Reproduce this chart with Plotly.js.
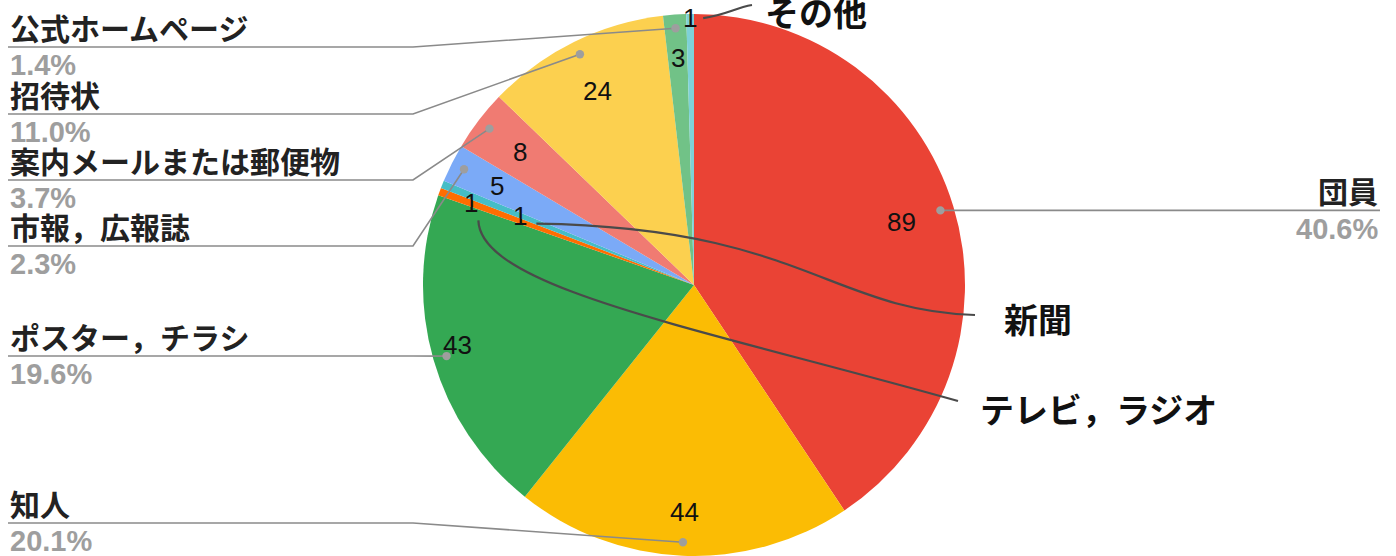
<!DOCTYPE html>
<html>
<head>
<meta charset="utf-8">
<script src="https://cdn.plot.ly/plotly-3.0.1.min.js"></script>
<style>html,body{margin:0;padding:0;background:#fff;}#chart{width:1396px;height:556px;}</style>
</head>
<body>
<div id="chart"></div>
<script>
// ---- data ----
const categories = ['団員','知人','ポスター，チラシ','テレビ，ラジオ','新聞','市報，広報誌','案内メールまたは郵便物','招待状','公式ホームページ','その他'];
const values = [89, 44, 43, 1, 1, 5, 8, 24, 3, 1];
const colors = ['#EA4335','#FBBC04','#34A853','#FF6D01','#46BDC6','#7BAAF7','#F07B72','#FCD04F','#71C287','#7ED1D7'];

// ---- layout helpers ----
const W = 1396, H = 556;
const CX = 694, CY = 285, R = 271;
const px = x => x / W;
const py = y => 1 - y / H;

const total = values.reduce((a, b) => a + b, 0);
const midAngle = [];
let acc = 0;
values.forEach(v => { midAngle.push((acc + v / 2) / total * 2 * Math.PI); acc += v; });
const polar = (i, f, shiftDeg) => {
  const a = midAngle[i] + (shiftDeg || 0) * Math.PI / 180;
  return [CX + f * R * Math.sin(a), CY - f * R * Math.cos(a)];
};
const pct = i => (values[i] / total * 100).toFixed(1) + '%';

// in-slice number placement (radius factor, angular nudge in degrees)
const labelR = [0.80, 0.84, 0.90, 0.875, 0.69, 0.815, 0.81, 0.80, 0.84, 0.985];
const labelShift = [0, 0, 1.8, 0, 0, 0, 0, 0, 0, 0];
const dotR = 0.95;

// side-label placement
const leftIdx = [8, 7, 6, 5, 2, 1];
const leftLineY = [47, 114, 180, 246, 356, 523];
const leftX = 8, elbowX = 413;
const rightIdx = 0, rightX = 1380;
const calloutIdx = [9, 4, 3];
const calloutPos = [[763, 12], [1002, 318], [978, 408]];

const nameFont = {family: 'Noto Sans CJK JP', size: 30, color: '#222222', weight: 700};
const pctFont = {family: 'Liberation Sans, Arial, sans-serif', size: 29, color: '#9E9E9E', weight: 700};
const numFont = {family: 'Liberation Sans, Arial, sans-serif', size: 26, color: '#111111'};
const calloutFont = {family: 'Noto Sans CJK JP', size: 34, color: '#111111', weight: 700};

const annotations = [];
const shapes = [];
const grayLine = {color: '#8A8A8A', width: 1.6};
const darkLine = {color: '#4A4A4A', width: 2.2};

function dot(x, y) {
  const r = 4.2;
  shapes.push({type: 'circle', xref: 'paper', yref: 'paper', layer: 'above',
    x0: px(x - r), x1: px(x + r), y0: py(y + r), y1: py(y - r),
    fillcolor: '#9E9E9E', line: {width: 0}});
}

// numbers in slices
values.forEach((v, i) => {
  const [x, y] = polar(i, labelR[i], labelShift[i]);
  annotations.push({xref: 'paper', yref: 'paper', x: px(x), y: py(y), text: String(v),
    showarrow: false, xanchor: 'center', yanchor: 'middle', font: numFont});
});

// left labels
leftIdx.forEach((i, k) => {
  const ly = leftLineY[k];
  const [dx, dy] = polar(i, dotR);
  const d = `M${px(leftX)},${py(ly)} L${px(elbowX)},${py(ly)} L${px(dx)},${py(dy)}`;
  shapes.push({type: 'path', xref: 'paper', yref: 'paper', layer: 'above', path: d, line: grayLine});
  dot(dx, dy);
  annotations.push({xref: 'paper', yref: 'paper', x: px(leftX), y: py(ly - 20), text: categories[i],
    showarrow: false, xanchor: 'left', yanchor: 'middle', font: nameFont});
  annotations.push({xref: 'paper', yref: 'paper', x: px(leftX), y: py(ly + 18), text: pct(i),
    showarrow: false, xanchor: 'left', yanchor: 'middle', font: pctFont});
});

// right label (団員)
{
  const i = rightIdx;
  const [dx, dy] = polar(i, dotR);
  shapes.push({type: 'line', xref: 'paper', yref: 'paper', layer: 'above',
    x0: px(dx), y0: py(dy), x1: px(rightX), y1: py(dy), line: grayLine});
  dot(dx, dy);
  annotations.push({xref: 'paper', yref: 'paper', x: px(rightX), y: py(dy - 20), text: categories[i],
    showarrow: false, xanchor: 'right', yanchor: 'middle', font: nameFont});
  annotations.push({xref: 'paper', yref: 'paper', x: px(rightX), y: py(dy + 19), text: pct(i),
    showarrow: false, xanchor: 'right', yanchor: 'middle', font: pctFont});
}

// callouts for tiny slices with curved leader lines
const curveOffsets = [
  {s: [13, 0], e: [-11, -7], c: (S, E) => [[S[0] + 0.45 * (E[0] - S[0]), S[1] - 3], [S[0] + 0.65 * (E[0] - S[0]), E[1] + 3]]},
  {s: [16, 8], e: [-27, -3], c: (S, E) => [[S[0] + 0.60 * (E[0] - S[0]), S[1] + 0.04 * (E[1] - S[1])], [S[0] + 0.67 * (E[0] - S[0]), S[1] + 0.95 * (E[1] - S[1])]]},
  {s: [7, 17], e: [-20, -7], c: (S, E) => [[S[0] + 2, S[1] + 68], [S[0] + 222, S[1] + 108]]}
];
calloutIdx.forEach((i, k) => {
  const L = polar(i, labelR[i], labelShift[i]);
  const o = curveOffsets[k];
  const S = [L[0] + o.s[0], L[1] + o.s[1]];
  const E = [calloutPos[k][0] + o.e[0], calloutPos[k][1] + o.e[1]];
  const [C1, C2] = o.c(S, E);
  const d = `M${px(S[0])},${py(S[1])} C${px(C1[0])},${py(C1[1])} ${px(C2[0])},${py(C2[1])} ${px(E[0])},${py(E[1])}`;
  shapes.push({type: 'path', xref: 'paper', yref: 'paper', layer: 'above', path: d, line: darkLine});
  annotations.push({xref: 'paper', yref: 'paper', x: px(calloutPos[k][0]), y: py(calloutPos[k][1]), text: categories[i],
    showarrow: false, xanchor: 'left', yanchor: 'middle', font: calloutFont});
});

const trace = {
  type: 'pie',
  labels: categories,
  values: values,
  sort: false,
  direction: 'clockwise',
  rotation: 0,
  marker: {colors: colors, line: {width: 0}},
  textinfo: 'none',
  hoverinfo: 'label+value+percent',
  domain: {x: [px(CX - R), px(CX + R)], y: [py(CY + R), py(CY - R)]}
};

const layout = {
  width: W, height: H,
  margin: {l: 0, r: 0, t: 0, b: 0},
  showlegend: false,
  paper_bgcolor: '#ffffff',
  annotations: annotations,
  shapes: shapes
};

Plotly.newPlot('chart', [trace], layout, {displayModeBar: false, staticPlot: true});
</script>
</body>
</html>
